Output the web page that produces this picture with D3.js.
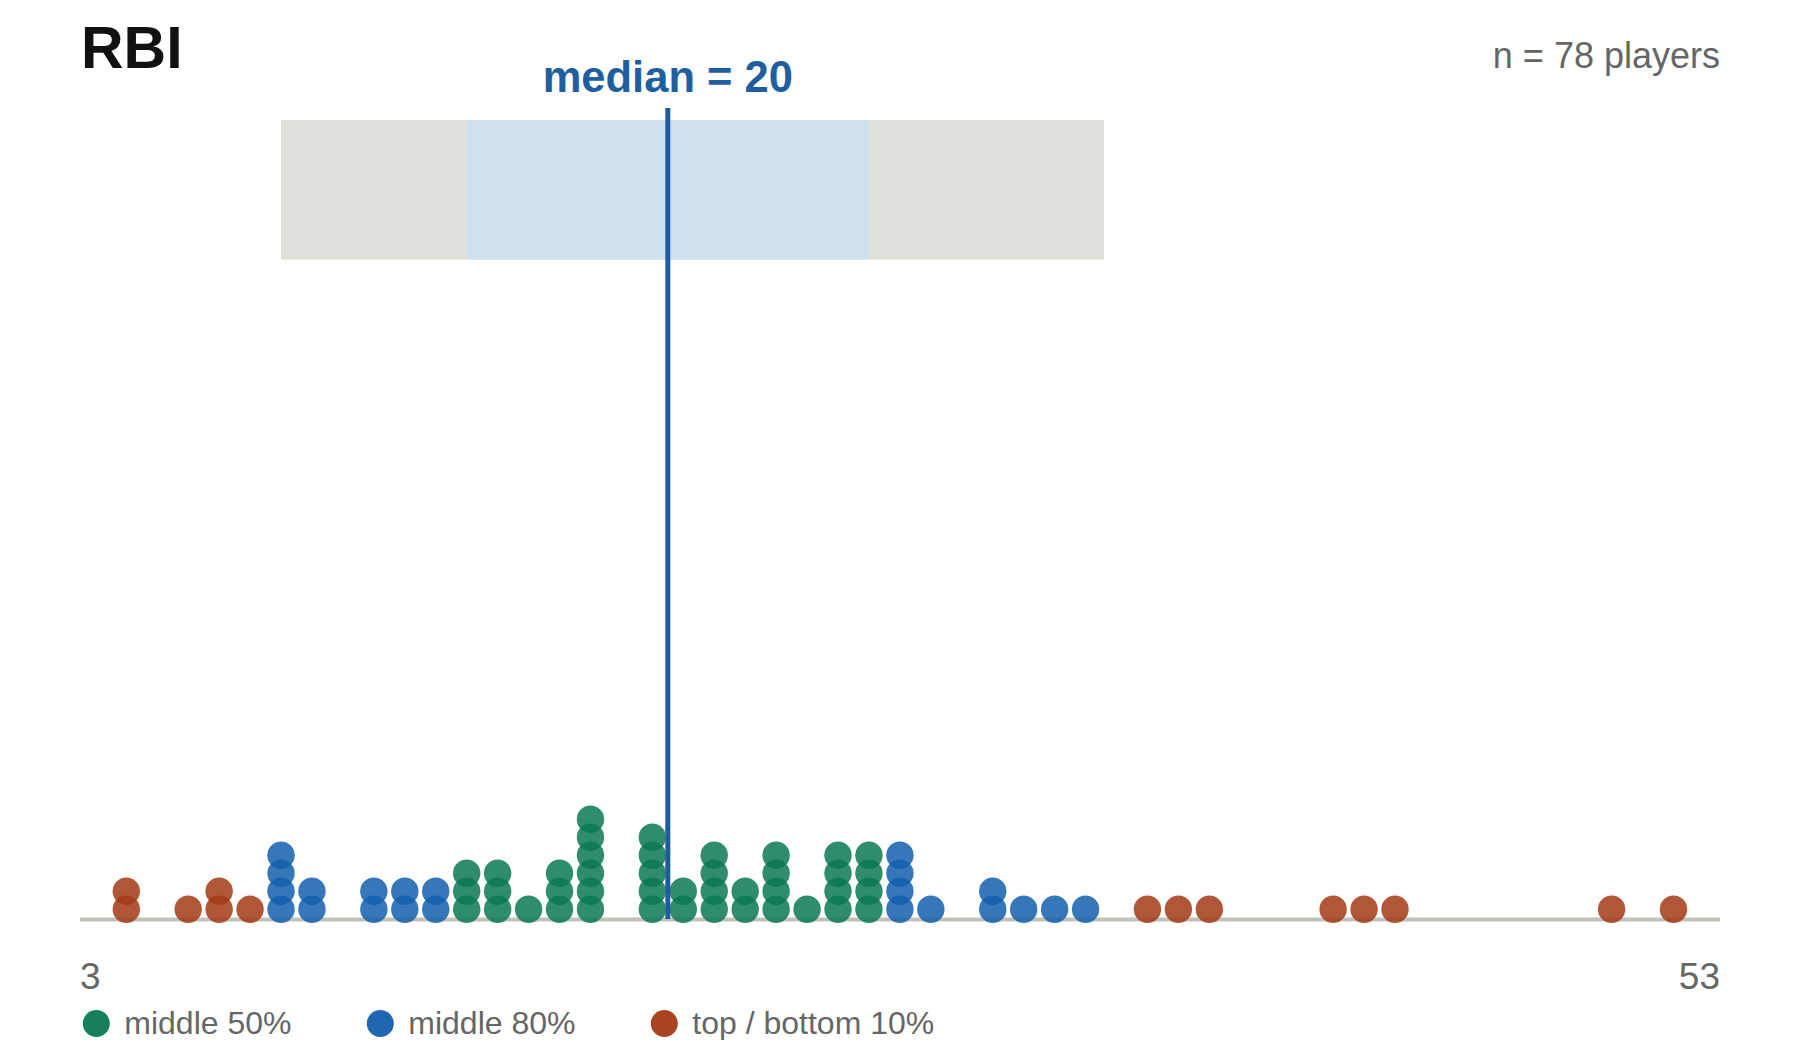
<!DOCTYPE html>
<html>
<head>
<meta charset="utf-8">
<script src="https://cdn.jsdelivr.net/npm/d3@7"></script>
<style>
  body { margin: 0; background: #fff; }
  text { font-family: "Liberation Sans", Arial, sans-serif; }
</style>
</head>
<body>
<script>
// RBI per player, one entry per player (78 players)
const rbiValues = [
  3, 3, 5, 6, 6, 7, 8, 8, 8, 8, 9, 9, 11, 11, 12, 12, 13, 13,
  14, 14, 14, 15, 15, 15, 16, 17, 17, 17, 18, 18, 18, 18, 18, 18,
  20, 20, 20, 20, 20, 21, 21, 22, 22, 22, 22, 23, 23, 24, 24, 24, 24,
  25, 26, 26, 26, 26, 27, 27, 27, 27, 28, 28, 28, 28, 29,
  31, 31, 32, 33, 34, 36, 37, 38, 42, 43, 44, 51, 53
];
const statName = "RBI";
const groupLabels = ["middle 50%", "middle 80%", "top / bottom 10%"];
const groupColors = ["#0a7853", "#135fad", "#a33a15"];

const width = 1800, height = 1040;

const sorted = rbiValues.slice().sort(d3.ascending);
const q10 = d3.quantile(sorted, 0.1);
const q25 = d3.quantile(sorted, 0.25);
const q75 = d3.quantile(sorted, 0.75);
const q90 = d3.quantile(sorted, 0.9);
const med = d3.quantile(sorted, 0.5);
const [minV, maxV] = d3.extent(sorted);

function group(v) {
  if (v >= q25 && v <= q75) return 0;
  if (v >= q10 && v <= q90) return 1;
  return 2;
}

// stack index within each value
const seen = {};
const dots = sorted.map(v => {
  seen[v] = (seen[v] || 0) + 1;
  return {v: v, k: seen[v] - 1, g: group(v)};
});

const x = d3.scaleLinear().domain([minV, maxV]).range([126.3, 1673.5]);
const yStack = d3.scaleLinear().domain([0, 1]).range([909.3, 891.3]);

const svg = d3.select("body").append("svg")
  .attr("width", width)
  .attr("height", height);

svg.append("rect").attr("width", width).attr("height", height).attr("fill", "#fff");

// bands
svg.append("rect")
  .attr("x", x(q10)).attr("y", 120)
  .attr("width", x(q90) - x(q10)).attr("height", 139.5)
  .attr("fill", "#e0e0da");
svg.append("rect")
  .attr("x", x(q25)).attr("y", 120)
  .attr("width", x(q75) - x(q25)).attr("height", 139.5)
  .attr("fill", "#cfe0ee");

// baseline
svg.append("line")
  .attr("x1", 80).attr("x2", 1720)
  .attr("y1", 919.5).attr("y2", 919.5)
  .attr("stroke", "#c2c2ba")
  .attr("stroke-width", 4);

// dots
svg.append("g").selectAll("circle")
  .data(dots)
  .enter()
  .append("circle")
    .attr("cx", d => x(d.v))
    .attr("cy", d => yStack(d.k))
    .attr("r", 13.7)
    .attr("fill", d => groupColors[d.g])
    .attr("fill-opacity", 0.85);

// median line + label
svg.append("line")
  .attr("x1", x(med)).attr("x2", x(med))
  .attr("y1", 108).attr("y2", 919)
  .attr("stroke", "#1f5c9e")
  .attr("stroke-width", 5);

svg.append("text")
  .attr("x", x(med)).attr("y", 92)
  .attr("text-anchor", "middle")
  .attr("font-size", 43.5)
  .attr("font-weight", "bold")
  .attr("fill", "#1f5fa0")
  .text("median = " + Math.floor(med));

// title + count
svg.append("text")
  .attr("x", 81).attr("y", 68)
  .attr("font-size", 59)
  .attr("font-weight", "bold")
  .attr("fill", "#111")
  .text(statName);

svg.append("text")
  .attr("x", 1720).attr("y", 68)
  .attr("text-anchor", "end")
  .attr("font-size", 36)
  .attr("fill", "#666")
  .text("n = " + rbiValues.length + " players");

// axis end labels
svg.append("text")
  .attr("x", 80).attr("y", 989)
  .attr("font-size", 37)
  .attr("fill", "#666")
  .text(minV);
svg.append("text")
  .attr("x", 1720).attr("y", 989)
  .attr("text-anchor", "end")
  .attr("font-size", 37)
  .attr("fill", "#666")
  .text(maxV);

// legend
const legend = svg.append("g").attr("transform", "translate(96.3,1023.5)");
const item = legend.selectAll("g")
  .data(groupLabels)
  .enter()
  .append("g")
    .attr("transform", (d, i) => `translate(${i * 284},0)`);
item.append("circle")
  .attr("r", 13.5)
  .attr("fill", (d, i) => groupColors[i])
  .attr("fill-opacity", 0.95);
item.append("text")
  .attr("x", 28)
  .attr("y", 10)
  .attr("font-size", 32)
  .attr("fill", "#666")
  .text(d => d);
</script>
</body>
</html>
